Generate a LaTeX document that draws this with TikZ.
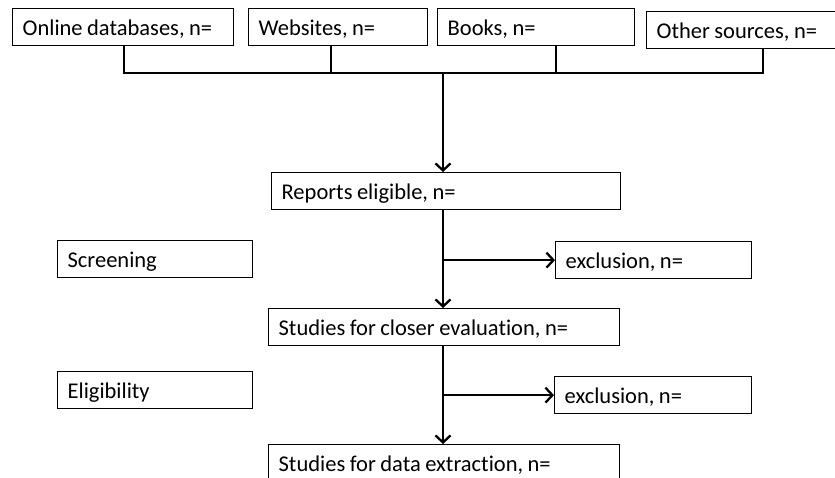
\documentclass[tikz,border=0pt]{standalone}
\usepackage{fontspec}
\setmainfont{Carlito}[Ligatures=NoCommon]
\usetikzlibrary{arrows.meta}
\newcommand\tightspaces{\spaceskip=0.2em\relax\xspaceskip=0.2em\relax}
\begin{document}
\begin{tikzpicture}[x=1pt,y=-1pt,
  box/.style={draw=black, line width=1.3pt, anchor=north west, minimum height=37pt,
    inner xsep=10pt, inner ysep=0pt, text height=17pt, text depth=0pt, align=left,
    font=\fontsize{22.5}{27}\selectfont, execute at begin node=\tightspaces},
  conn/.style={draw=black, line width=2.6pt},
  arrow/.style={conn, -{Straight Barb[length=7pt,width=15pt,line width=2.3pt]}}]
\useasboundingbox (0,0) rectangle (835,478);
\clip (0,0) rectangle (835,478);
% sources
\node[box, minimum width=221pt, text width=201pt] (online) at (12,8) {Online databases, n=};
\node[box, minimum width=179pt, text width=159pt] (websites) at (248,8) {Websites, n=};
\node[box, minimum width=197pt, text width=177pt] (books) at (437,8) {Books, n=};
\node[box, minimum width=200pt, text width=180pt] (other) at (646,11) {Other sources, n=};
% main flow
\node[box, minimum width=349pt, text width=329pt] (reports) at (271,172) {Reports eligible, n=};
\node[box, minimum width=351pt, text width=331pt] (closer) at (268,308) {Studies for closer evaluation, n=};
\node[box, minimum width=351pt, text width=331pt] (extraction) at (268,444) {Studies for data extraction, n=};
% exclusions
\node[box, minimum width=196pt, text width=176pt] (excl1) at (555,241) {exclusion, n=};
\node[box, minimum width=197pt, text width=177pt] (excl2) at (554,376) {exclusion, n=};
% stage labels
\node[box, minimum width=195pt, text width=175pt] (screening) at (57,240) {Screening};
\node[box, minimum width=195pt, text width=175pt] (eligibility) at (57,371) {Eligibility};
% bus
\coordinate (b1) at (124,73);
\coordinate (b2) at (331,73);
\coordinate (b3) at (556,73);
\coordinate (b4) at (763,73);
\coordinate (hub) at (443,73);
\draw[conn] (b1 |- online.south) -- (b1);
\draw[conn] (b2 |- websites.south) -- (b2);
\draw[conn] (b3 |- books.south) -- (b3);
\draw[conn] (b4 |- other.south) -- (b4);
\draw[conn] ([xshift=-1.3pt]b1) -- ([xshift=1.3pt]b4);
\draw[arrow] (hub) -- (hub |- reports.north);
\draw[arrow] (hub |- reports.south) -- (hub |- closer.north);
\draw[arrow] (hub |- excl1.west) -- (excl1.west);
\draw[arrow] (hub |- closer.south) -- (hub |- extraction.north);
\draw[arrow] (hub |- excl2.west) -- (excl2.west);
\end{tikzpicture}
\end{document}
